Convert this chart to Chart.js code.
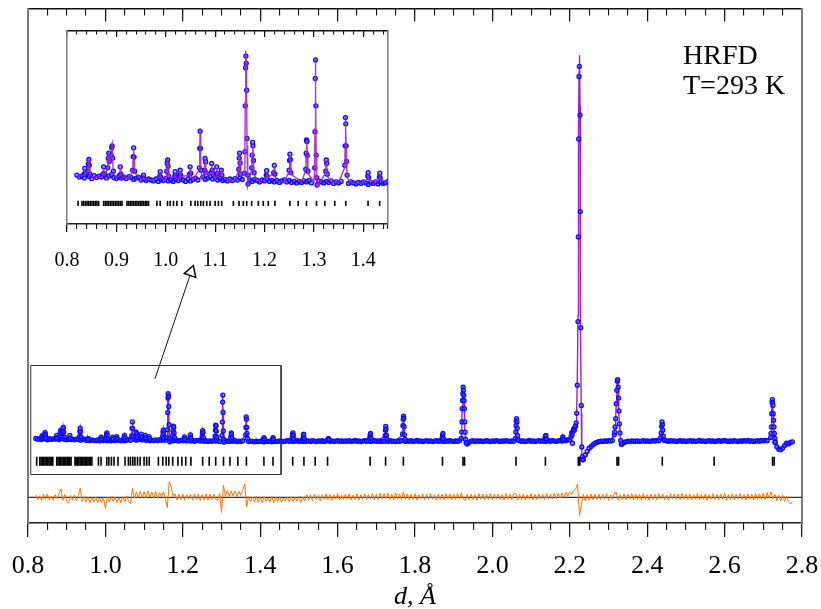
<!DOCTYPE html>
<html><head><meta charset="utf-8">
<script src="https://cdn.jsdelivr.net/npm/chart.js@4.4.0/dist/chart.umd.min.js"></script>
<style>
html,body{margin:0;padding:0;background:#fff;}
#wrap{position:relative;width:821px;height:609px;overflow:hidden;background:#fff;}
#main{position:absolute;left:0;top:0;width:821px;height:609px;}
#inset{position:absolute;left:0;top:0;width:420px;height:300px;}
.lbl{position:absolute;left:683px;top:40px;font-family:"Liberation Serif","Times New Roman",serif;font-size:28px;line-height:30px;color:#000;white-space:nowrap;}
</style></head><body>
<div id="wrap">
<canvas id="main" width="821" height="609"></canvas>
<canvas id="inset" width="420" height="300"></canvas>
<div class="lbl">HRFD<br>T=293 K</div>
</div>
<script>
// ---------- data ----------
// background of the observed profile on a d grid (start 0.82 Å, step 0.005 Å), values x0.01
const BG_START = 0.82, BG_STEP = 0.005;
const bgObs = [
110,106,108,104,112,107,103,109,105,108,
106,110,104,108,111,105,103,107,104,106,
103,107,105,101,104,106,100,103,99,102,
100,98,102,97,101,99,103,98,100,97,
101,99,103,100,97,102,98,101,104,100,
null,106,101,104,107,102,105,100,103,99,
101,98,102,99,103,100,104,101,null,null,
100,97,101,99,96,100,98,102,97,99,
96,99,95,98,100,96,99,95,97,94,
97,95,98,96,99,94,null,null,98,96,
94,97,95,98,93,96,94,97,null,null,
93,96,94,92,95,93,96,94,91,95,
93,96,92,95,93,94,97,95,93,96,
98,95,97,94,96,98,95,97,94,96,
95,97,94,98,96,93,97,95,98,94,
96,99,95,97,94,96,98,95,97,94,
97,95,98,94,96,99,95,97,93,96,
98,95,97,94,96,98,95,97,94,96,
95,null,94,98,95,96,93,97,95,98,
null,94,97,95,98,94,96,99,95,97,
94,96,98,95,97,93,96,98,95,97,
96,94,97,95,98,96,94,97,95,98,
null,null,null,80,90,96,98,94,97,95,
97,94,96,98,95,93,97,95,98,96,
94,97,95,98,96,94,97,95,null,null,
98,95,97,94,96,99,95,97,94,96,
98,95,97,94,96,98,95,99,96,94,
97,99,96,101,98,104,102,null,null,null,
null,null,null,-4,20,40,57,66,76,84,
88,93,96,94,97,95,98,96,99,null,
null,null,null,80,88,92,95,93,97,95,
95,97,94,96,98,95,97,94,96,98,
96,99,97,null,null,100,97,95,98,96,
97,94,96,98,95,97,94,96,98,95,
97,94,96,99,95,97,94,96,98,95,
97,94,96,98,95,97,99,96,94,97,
95,98,96,94,97,95,98,96,99,95,
97,94,96,98,95,99,97,100,98,null,
null,null,90,65,52,48,58,72,85,80,
88,92];

// difference (obs - calc) on the same grid, values x0.01
const diffRes = [
14,-14,8,-18,16,-10,18,-14,6,-16,
14,-8,20,45,-16,14,-20,-32,10,-16,
12,-18,8,50,-24,4,-28,0,-30,-2,
-26,2,-30,-4,-28,-2,-60,0,-26,4,
-24,2,-28,-2,-30,4,-26,8,-22,-34,
48,-4,28,0,32,-2,30,-4,34,2,
28,-2,32,-6,26,4,30,-8,-55,85,
58,4,18,-14,16,-12,18,-16,14,-10,
16,-16,18,-12,16,-18,14,-14,18,-16,
16,-14,18,-10,-16,20,-82,66,8,36,
6,34,8,36,4,32,10,38,72,-52,
4,-24,2,-28,6,-26,0,-30,4,-22,
-2,-26,6,-30,0,-24,4,-28,-4,-20,
2,-26,4,-24,0,-22,6,-28,2,-20,
14,-16,12,-18,16,-14,10,-20,14,-12,
18,-14,16,-18,14,-10,20,-14,12,-12,
16,-10,18,-14,12,-12,20,-16,14,-10,
18,-12,16,-10,20,-14,16,-12,22,-10,
20,-8,22,-12,16,-14,24,-10,18,-12,
30,-10,18,-14,16,-12,20,-16,14,-10,
18,-14,16,-12,20,-10,14,-16,18,-12,
16,-14,20,-10,18,-14,16,-12,20,-8,
24,-12,-16,16,-14,18,-12,14,-16,20,
-10,18,-14,16,-12,20,-14,16,-10,18,
-12,14,-16,20,-10,16,-14,18,22,-16,
16,-12,18,-14,14,-10,20,-16,16,-12,
18,-10,16,-14,20,-12,16,-10,22,-8,
20,-4,24,0,26,6,30,14,36,44,
72,-98,-40,16,-20,14,-16,18,-14,16,
-12,18,-14,16,-10,20,-16,14,-12,22,
28,-18,14,-12,18,-14,16,-10,20,-14,
18,-12,16,-14,20,-10,14,-16,18,-12,
16,-14,20,-10,18,-14,12,-16,20,-10,
18,-12,16,-14,22,-10,16,-12,18,-14,
14,-10,20,-14,16,-12,18,-16,14,-10,
20,-12,16,-14,18,-10,22,-16,14,-12,
18,-14,16,-10,20,-12,14,-16,18,-10,
16,-14,20,-12,18,-10,22,-14,26,-6,
30,-8,16,-18,12,-20,10,-22,6,-24,
-36,-22];

// Bragg peaks: d, observed, calculated
const pkD = [
0.8345,0.8360,0.8375,
0.8420,0.8432,0.8442,0.8452,0.8465,
0.8728,0.8742,0.8756,
0.8825,0.8836,0.8845,0.8855,
0.8895,0.8905,0.8914,0.8924,0.8938,
0.9065,0.9079,0.9092,
0.9330,0.9340,0.9349,0.9358,0.9370,
0.9542,0.9550,0.9558,
0.9878,0.9888,0.9898,
1.0020,1.0030,1.0038,1.0047,1.0058,
1.0182,1.0190,1.0198,
1.0280,1.0291,1.0302,
1.0480,1.0493,1.0505,
1.0680,1.0688,1.0696,1.0704,1.0713,
1.0786,1.0796,1.0806,1.0817,
1.0920,1.0930,1.0941,
1.1022,1.1032,1.1042,
1.1125,1.1136,
1.1478,1.1488,1.1495,1.1505,1.1515,
1.1595,1.1603,1.1610,1.1616,1.1622,1.1630,1.1637,1.1645,1.1655,1.1665,
1.1740,1.1750,1.1758,1.1766,1.1775,1.1788,
1.2035,1.2042,1.2050,
1.2185,1.2197,1.2208,
1.2498,1.2506,1.2513,1.2522,1.2533,
1.2835,1.2843,1.2850,1.2858,1.2866,1.2878,
1.3015,1.3022,1.3028,1.3033,1.3040,1.3047,1.3055,1.3065,
1.3240,1.3250,1.3258,1.3270,
1.3625,1.3632,1.3638,1.3645,1.3652,1.3660,1.3672,
1.4090,1.4098,1.4108,
1.4325,1.4333,1.4343,
1.4825,1.4835,1.4845,1.4855,1.4868,
1.5105,1.5115,1.5125,1.5138,
1.5750,1.5762,1.5775,
1.6830,1.6842,1.6852,1.6865,
1.7228,1.7236,1.7244,1.7252,1.7262,1.7275,
1.7680,1.7688,1.7695,1.7702,1.7710,1.7718,1.7728,1.7742,
1.8700,1.8712,1.8722,1.8735,
1.9195,1.9205,1.9213,1.9220,1.9228,1.9236,1.9244,1.9252,1.9260,1.9268,1.9276,1.9285,1.9295,1.9308,1.9322,
2.0595,2.0603,2.0610,2.0617,2.0624,2.0632,2.0640,2.0650,2.0662,
2.1360,2.1372,2.1382,2.1395,
2.1805,2.1820,2.1835,
2.2035,2.2048,2.2060,2.2068,2.2085,2.2100,2.2115,2.2130,2.2150,2.2165,2.2178,2.2194,2.2212,2.2220,2.2230,2.2238,2.2246,2.2256,2.2264,2.2271,2.2282,2.2297,2.2310,2.2322,2.2335,
2.3150,2.3160,2.3170,2.3185,2.3200,2.3215,2.3228,2.3237,2.3250,2.3260,2.3270,2.3282,2.3297,2.3315,2.3330,
2.4350,2.4362,2.4372,2.4382,2.4392,2.4402,2.4415,2.4432,
2.7190,2.7200,2.7210,2.7218,2.7226,2.7233,2.7240,2.7248,2.7256,2.7265,2.7275,2.7285,2.7298,2.7310];
const pkObs = [
1.12,1.24,1.15,
1.18,1.33,1.42,1.30,1.12,
1.12,1.27,1.13,
1.25,1.45,1.55,1.38,
1.50,1.66,1.70,1.45,1.18,
1.10,1.27,1.12,
1.20,1.48,1.66,1.47,1.18,
1.04,1.10,1.03,
1.08,1.17,1.06,
1.18,1.35,1.41,1.28,1.08,
1.08,1.17,1.07,
1.10,1.20,1.10,
1.12,1.27,1.14,
1.25,1.65,2.00,1.65,1.20,
1.20,1.44,1.37,1.15,
1.15,1.34,1.20,
1.12,1.27,1.13,
1.20,1.10,
1.22,1.45,1.55,1.35,1.12,
1.14,1.58,2.52,3.30,3.54,3.39,2.84,1.85,1.10,0.92,
1.25,1.51,1.77,1.70,1.40,1.15,
1.10,1.19,1.08,
1.15,1.30,1.12,
1.20,1.40,1.53,1.42,1.15,
1.22,1.55,1.82,1.79,1.50,1.18,
1.25,1.99,3.08,3.46,2.52,1.51,1.05,0.90,
1.18,1.41,1.34,1.12,
1.30,1.70,2.28,2.15,1.70,1.38,1.10,
1.08,1.15,1.05,
1.06,1.14,1.04,
1.15,1.32,1.40,1.28,1.08,
1.12,1.30,1.33,1.10,
1.03,1.10,1.02,
1.13,1.30,1.37,1.12,
1.25,1.55,1.76,1.62,1.28,1.05,
1.35,1.80,2.15,2.31,2.20,1.75,1.30,1.05,
1.12,1.30,1.37,1.10,
1.10,1.45,2.00,2.72,3.17,3.54,3.90,3.72,3.45,3.17,2.72,2.00,1.45,1.05,0.85,
1.10,1.45,1.80,2.05,2.18,2.00,1.65,1.25,1.02,
1.10,1.22,1.27,1.08,
1.08,1.18,1.05,
1.20,1.42,1.30,0.84,1.50,1.62,1.55,1.70,1.78,1.95,2.47,4.00,7.46,12.07,17.40,20.80,21.35,null,18.70,13.45,7.13,2.90,0.64,0.10,-0.06,
1.30,1.45,1.73,2.18,2.99,3.72,4.22,4.30,3.90,3.30,2.60,1.90,1.40,1.00,0.78,
1.15,1.40,1.75,2.00,1.85,1.55,1.22,1.02,
1.15,1.37,1.73,2.45,3.08,3.21,3.05,2.90,2.45,2.09,1.73,1.37,1.10,0.90];
const pkCalc = [
1.10,1.22,1.12,
1.16,1.35,1.44,1.28,1.10,
1.10,1.25,1.10,
1.22,1.48,1.58,1.35,
1.48,1.70,1.74,1.42,1.15,
1.08,1.25,1.09,
1.18,1.50,1.64,1.45,1.15,
1.03,1.09,1.02,
1.06,1.16,1.04,
1.16,1.36,1.43,1.26,1.05,
1.06,1.15,1.05,
1.08,1.19,1.07,
1.10,1.26,1.11,
1.22,1.62,2.02,1.66,1.18,
1.18,1.42,1.35,1.12,
1.13,1.32,1.17,
1.10,1.25,1.10,
1.18,1.07,
1.20,1.44,1.56,1.33,1.08,
1.10,1.62,2.60,3.40,3.65,3.45,2.75,1.70,0.95,0.88,
1.22,1.50,1.75,1.72,1.38,1.12,
1.07,1.17,1.05,
1.12,1.28,1.09,
1.18,1.42,1.52,1.40,1.12,
1.20,1.52,1.80,1.78,1.48,1.14,
1.20,2.05,3.15,3.52,2.60,1.45,0.95,0.86,
1.15,1.40,1.32,1.08,
1.26,1.72,2.30,2.12,1.66,1.34,1.05,
1.04,1.13,1.02,
1.03,1.12,1.01,
1.12,1.34,1.42,1.26,1.05,
1.10,1.30,1.32,1.06,
1.00,1.08,0.99,
1.10,1.31,1.36,1.08,
1.22,1.56,1.78,1.60,1.25,1.00,
1.30,1.82,2.20,2.35,2.18,1.72,1.26,1.00,
1.10,1.31,1.36,1.06,
1.06,1.42,2.05,2.75,3.25,3.62,3.95,3.80,3.50,3.20,2.70,1.95,1.38,0.98,0.82,
1.06,1.42,1.82,2.08,2.20,2.02,1.62,1.20,0.98,
1.06,1.22,1.26,1.04,
1.04,1.14,1.02,
1.10,1.25,1.30,1.35,1.42,1.48,1.55,1.62,1.72,1.90,2.60,4.30,7.80,12.50,17.80,21.10,21.85,21.95,19.20,13.80,7.00,2.50,0.40,-0.05,-0.10,
1.25,1.42,1.72,2.20,3.05,3.80,4.28,4.35,3.95,3.32,2.58,1.85,1.35,0.95,0.78,
1.10,1.38,1.76,2.02,1.86,1.52,1.18,0.98,
1.10,1.35,1.75,2.50,3.12,3.28,3.10,2.92,2.45,2.05,1.68,1.32,1.02,0.85];

// calculated background between peaks
const calcBgD = [0.82,0.85,0.87,0.90,0.925,0.95,0.975,1.00,1.025,1.055,1.075,1.10,1.125,1.14,1.185,1.20,1.225,1.24,1.275,1.30,1.335,1.35,1.375,1.40,1.425,1.45,1.50,1.55,1.60,1.65,1.70,1.75,1.80,1.85,1.90,1.95,2.00,2.05,2.10,2.15,2.19,2.26,2.28,2.30,2.35,2.40,2.45,2.50,2.55,2.60,2.65,2.70,2.74,2.755,2.775];
const calcBgI = [1.08,1.07,1.05,1.04,1.03,1.02,1.00,0.99,1.00,1.00,1.03,1.02,1.00,0.99,0.99,0.98,0.97,0.96,0.96,0.96,0.95,0.95,0.94,0.94,0.94,0.95,0.96,0.96,0.96,0.96,0.96,0.96,0.96,0.96,0.96,0.96,0.96,0.96,0.96,0.97,1.02,0.75,0.93,0.96,0.94,0.96,0.96,0.96,0.96,0.96,0.96,0.98,0.55,0.72,0.90];

// Bragg reflection positions (tick marks)
const braggD = [0.8224,0.8304,0.8338,0.8372,0.8405,0.8439,0.8473,0.8506,0.854,0.8574,0.8607,0.8641,0.8742,0.8776,0.8809,0.8843,0.8877,0.8911,0.8944,0.8978,0.9012,0.9045,0.9079,0.9113,0.9214,0.9247,0.9281,0.9315,0.9348,0.9382,0.9416,0.945,0.9483,0.9517,0.955,0.9584,0.9618,0.9651,0.982,0.9887,1.0035,1.0089,1.0156,1.0224,1.0325,1.0507,1.0594,1.0648,1.0709,1.0763,1.083,1.0897,1.0999,1.1066,1.1133,1.1369,1.1483,1.1571,1.1638,1.1739,1.1874,1.1975,1.2076,1.221,1.2513,1.2682,1.285,1.3052,1.322,1.3422,1.3644,1.4096,1.4331,
1.484,1.513,1.542,1.574,1.684,1.724,1.770,1.871,1.924,1.928,2.061,2.137,2.222,2.226,2.322,2.326,2.439,2.573,2.724,2.728];

const mainTickLabels = ['0.8','1.0','1.2','1.4','1.6','1.8','2.0','2.2','2.4','2.6','2.8'];
const insetTickLabels = ['0.8','0.9','1.0','1.1','1.2','1.3','1.4'];

// annotations (zoom box and arrow) in data units
const zoomBoxD = [0.807,1.454,1.454,0.807,0.807];
const zoomBoxI = [5.07,5.07,-0.86,-0.86,5.07];
const arrowD = [1.128,1.2215];
const arrowI = [4.35,10.15];
const DIFF_OFFSET = -2.1;
const BRAGG_LEVEL_MAIN = -0.14;
const BRAGG_LEVEL_INSET = 0.52;

// ---------- build ----------
const gd = i => +(BG_START + BG_STEP * i).toFixed(4);
const obsPts = [];
bgObs.forEach((v, i) => { if (v !== null) obsPts.push({x: gd(i), y: v / 100}); });
pkD.forEach((d, i) => { if (pkObs[i] !== null) obsPts.push({x: d, y: pkObs[i]}); });
const calcPts = calcBgD.map((d, i) => ({x: d, y: calcBgI[i]}))
  .concat(pkD.map((d, i) => ({x: d, y: pkCalc[i]})))
  .sort((a, b) => a.x - b.x);
const diffPts = diffRes.map((r, i) => ({x: gd(i), y: DIFF_OFFSET + r / 100}));
const zip = (a, b) => a.map((v, i) => ({x: v, y: b[i]}));

const serif = '"Liberation Serif", "Times New Roman", serif';
const fixH = h => s => { s.height = h; };
const fixW = w => s => { s.width = w; };

function frameScales(o) {
  const lab = o.labels;
  return {
    x: { type: 'linear', position: 'bottom', weight: 1, min: o.min, max: o.max, bounds: 'data',
      ticks: { stepSize: o.major, includeBounds: false, autoSkip: false, maxRotation: 0, padding: o.labPad, color: '#000',
        font: { family: serif, size: o.labSize, lineHeight: o.labLH },
        callback: v => { const s = v.toFixed(1); return lab.includes(s) ? s : ''; } },
      grid: { drawOnChartArea: false, drawTicks: true, tickLength: o.majBot, color: '#111', lineWidth: 1.2 },
      border: { display: true, color: '#222', width: 1.4 },
      title: o.title ? { display: true, text: o.title, color: '#000', font: { family: serif, size: 26, style: 'italic', lineHeight: 1 }, padding: { top: 0, bottom: -1 } } : { display: false },
      afterFit: fixH(o.axisH) },
    xMinor: { type: 'linear', axis: 'x', position: 'bottom', weight: 0, min: o.min, max: o.max, bounds: 'data',
      ticks: { display: false, stepSize: o.minor, includeBounds: false, autoSkip: false },
      grid: { drawOnChartArea: false, drawTicks: true, tickLength: o.minBot, color: '#111', lineWidth: 1.1 },
      border: { display: false }, afterFit: fixH(0) },
    xTop: { type: 'linear', axis: 'x', position: 'top', min: o.min, max: o.max, bounds: 'data',
      ticks: { display: false, stepSize: o.major, includeBounds: false, autoSkip: false },
      grid: { drawOnChartArea: false, drawTicks: true, tickLength: -o.majTop, color: '#111', lineWidth: 1.2 },
      border: { display: true, color: '#111', width: 1.4 }, afterFit: fixH(0) },
    xTopMinor: { type: 'linear', axis: 'x', position: 'top', min: o.min, max: o.max, bounds: 'data',
      ticks: { display: false, stepSize: o.minor, includeBounds: false, autoSkip: false },
      grid: { drawOnChartArea: false, drawTicks: true, tickLength: -o.minTop, color: '#111', lineWidth: 1.1 },
      border: { display: false }, afterFit: fixH(0) },
    y: { type: 'linear', position: 'left', min: o.ymin, max: o.ymax, bounds: 'data',
      ticks: { display: false }, grid: { drawOnChartArea: false, drawTicks: false },
      border: { display: true, color: '#7a7a7a', width: o.sideW }, afterFit: fixW(0) },
    yR: { type: 'linear', axis: 'y', position: 'right', min: o.ymin, max: o.ymax, bounds: 'data',
      ticks: { display: false }, grid: { drawOnChartArea: false, drawTicks: false },
      border: { display: true, color: '#7a7a7a', width: o.sideW }, afterFit: fixW(0) }
  };
}

const common = {
  responsive: false, animation: false, devicePixelRatio: 1, events: [],
  plugins: { legend: { display: false }, tooltip: { enabled: false }, title: { display: false } }
};
const obsStyle = { pointStyle: 'circle', pointRadius: 2, pointBorderWidth: 1.3, pointBorderColor: '#0b0bff',
  pointBackgroundColor: 'rgba(80,80,255,0.5)' };

new Chart(document.getElementById('main'), {
  type: 'scatter',
  data: { datasets: [
    { data: zip(zoomBoxD, zoomBoxI), showLine: true, pointRadius: 0, borderColor: '#333', borderWidth: 1, order: 10 },
    { data: [{x: 0.8, y: DIFF_OFFSET}, {x: 2.8, y: DIFF_OFFSET}], showLine: true, pointRadius: 0, borderColor: '#333', borderWidth: 1.2, order: 9 },
    { data: diffPts, showLine: true, pointRadius: 0, borderColor: '#ff7300', borderWidth: 1, order: 8 },
    { data: braggD.map(d => ({x: d, y: BRAGG_LEVEL_MAIN})), pointStyle: 'line', pointRotation: 90, pointRadius: 4.5,
      pointBorderWidth: 1.6, pointBorderColor: '#000', borderColor: '#000', order: 7 },
    { data: calcPts, showLine: true, pointRadius: 0, borderColor: '#a21ccc', borderWidth: 1.4, order: 6 },
    Object.assign({ data: obsPts, order: 5 }, obsStyle),
    { data: zip(arrowD, arrowI), showLine: true, pointRadius: 0, borderColor: '#111', borderWidth: 1, order: 2 },
    { data: [{x: arrowD[1], y: arrowI[1]}], pointStyle: 'triangle', pointRotation: 18.7, pointRadius: 7,
      pointBackgroundColor: '#fff', pointBorderColor: '#000', pointBorderWidth: 1.5, order: 1 }
  ]},
  options: Object.assign({}, common, {
    layout: { padding: { left: 28, right: 19, top: 7, bottom: 0 } },
    scales: frameScales({ min: 0.8, max: 2.8, major: 0.2, minor: 0.05, labels: mainTickLabels, labPad: 0, labSize: 26, labLH: '58px',
      majBot: 14, minBot: 7, majTop: 13, minTop: 7, axisH: 86, ymin: -3.5, ymax: 24.5, sideW: 2, title: 'd, Å' })
  })
});

new Chart(document.getElementById('inset'), {
  type: 'scatter',
  data: { datasets: [
    { data: braggD.map(d => ({x: d, y: BRAGG_LEVEL_INSET})), pointStyle: 'line', pointRotation: 90, pointRadius: 2.6,
      pointBorderWidth: 1.6, pointBorderColor: '#000', borderColor: '#000', order: 7 },
    Object.assign({ data: obsPts, order: 6 }, obsStyle),
    { data: calcPts, showLine: true, pointRadius: 0, borderColor: 'rgba(165,30,205,0.9)', borderWidth: 1.4, order: 5 }
  ]},
  options: Object.assign({}, common, {
    layout: { padding: { left: 67, right: 32, top: 31, bottom: 0 } },
    scales: frameScales({ min: 0.8, max: 1.45, major: 0.1, minor: 0.02, labels: insetTickLabels, labPad: 0, labSize: 20, labLH: '58px',
      majBot: 8, minBot: 5, majTop: 6, minTop: 3.5, axisH: 76, ymin: 0.0984, ymax: 4.053, sideW: 1.5, title: null })
  })
});
</script>
</body></html>
